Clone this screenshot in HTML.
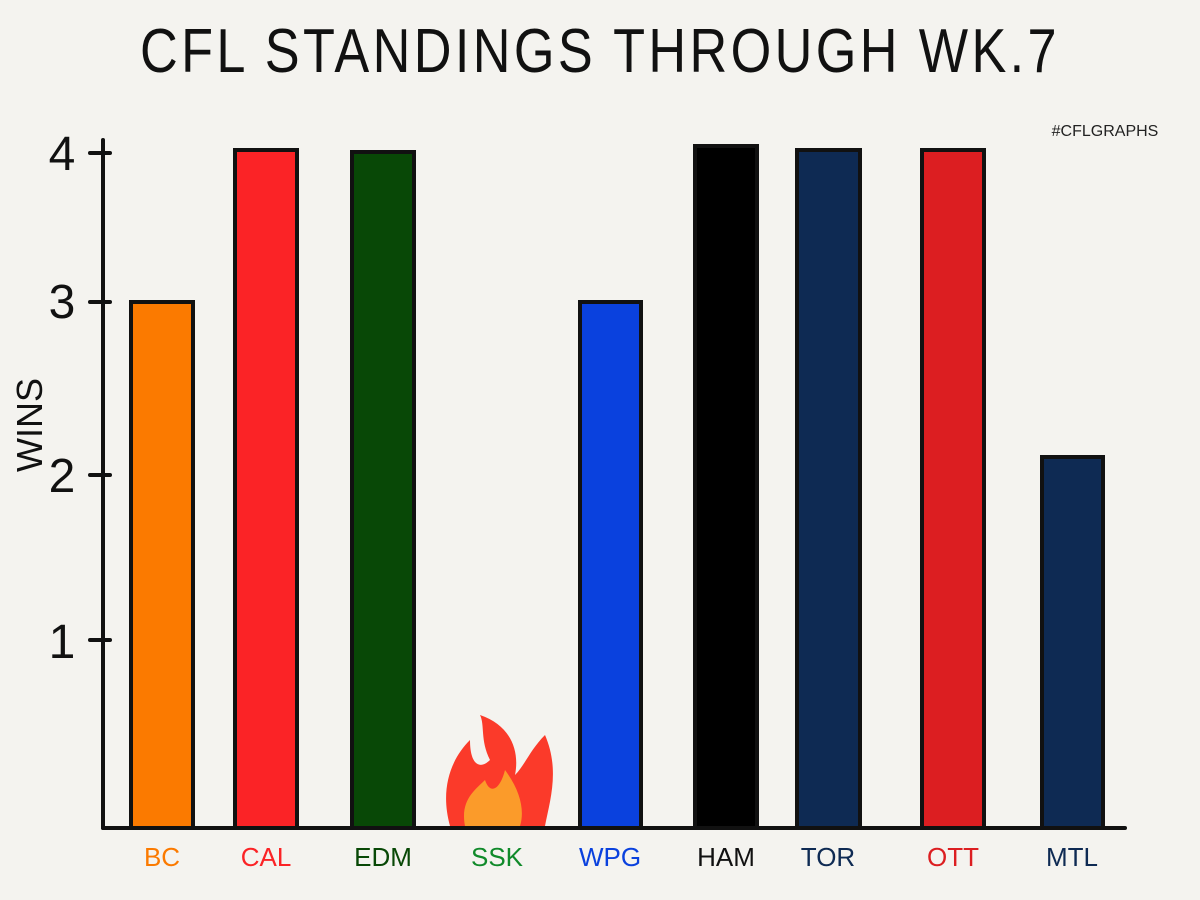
<!DOCTYPE html>
<html><head><meta charset="utf-8"><style>
body{margin:0;background:#f4f3ef;}
svg{display:block}
text{font-family:"Liberation Sans",sans-serif;}
</style></head><body>
<svg width="1200" height="900" viewBox="0 0 1200 900">
<rect width="1200" height="900" fill="#f4f3ef"/>
<text x="600" y="72" text-anchor="middle" font-size="62" font-weight="300" letter-spacing="4" fill="#111" textLength="920" lengthAdjust="spacingAndGlyphs">CFL STANDINGS THROUGH WK.7</text>
<text x="1105" y="136" text-anchor="middle" font-size="16" fill="#222">#CFLGRAPHS</text>
<g stroke="#111" stroke-width="4" fill="none" stroke-linecap="round">
<line x1="103" y1="140" x2="103" y2="828"/>
<line x1="103" y1="828" x2="1125" y2="828"/>
<line x1="90" y1="153" x2="110" y2="153"/>
<line x1="90" y1="302" x2="110" y2="302"/>
<line x1="90" y1="475" x2="110" y2="475"/>
<line x1="90" y1="640" x2="110" y2="640"/>
</g>
<g font-size="48" fill="#111" text-anchor="middle">
<text x="62" y="170">4</text><text x="62" y="318">3</text><text x="62" y="492">2</text><text x="62" y="658">1</text>
</g>
<text transform="translate(42,425) rotate(-90)" text-anchor="middle" font-size="36" fill="#111">WINS</text>
<g stroke="#111" stroke-width="4">
<rect x="131" y="302" width="62" height="526" fill="#fb7a00"/>
<rect x="235" y="150" width="62" height="678" fill="#fb2326"/>
<rect x="352" y="152" width="62" height="676" fill="#084806"/>
<rect x="580" y="302" width="61" height="526" fill="#0a41de"/>
<rect x="695" y="146" width="62" height="682" fill="#000"/>
<rect x="797" y="150" width="63" height="678" fill="#0e2a53"/>
<rect x="922" y="150" width="62" height="678" fill="#dc1e21"/>
<rect x="1042" y="457" width="61" height="371" fill="#0e2a53"/>
</g>
<path d="M450 826 C440 790 450 760 470 740 C470 765 480 770 490 760 C480 740 485 725 480 715 C510 725 520 750 515 775 C525 765 530 750 545 735 C560 770 550 800 545 826 Z" fill="#fb3a2a"/>
<path d="M465 826 C460 800 475 790 485 780 C490 795 500 790 505 770 C520 790 525 810 520 826 Z" fill="#fb9b2a"/>
<g font-size="26" text-anchor="middle">
<text x="162" y="866" fill="#fb7a00">BC</text>
<text x="266" y="866" fill="#fb2326">CAL</text>
<text x="383" y="866" fill="#084806">EDM</text>
<text x="497" y="866" fill="#108a2a">SSK</text>
<text x="610" y="866" fill="#0a41de">WPG</text>
<text x="726" y="866" fill="#111">HAM</text>
<text x="828" y="866" fill="#0e2a53">TOR</text>
<text x="953" y="866" fill="#dc1e21">OTT</text>
<text x="1072" y="866" fill="#0e2a53">MTL</text>
</g>
</svg>
</body></html>
